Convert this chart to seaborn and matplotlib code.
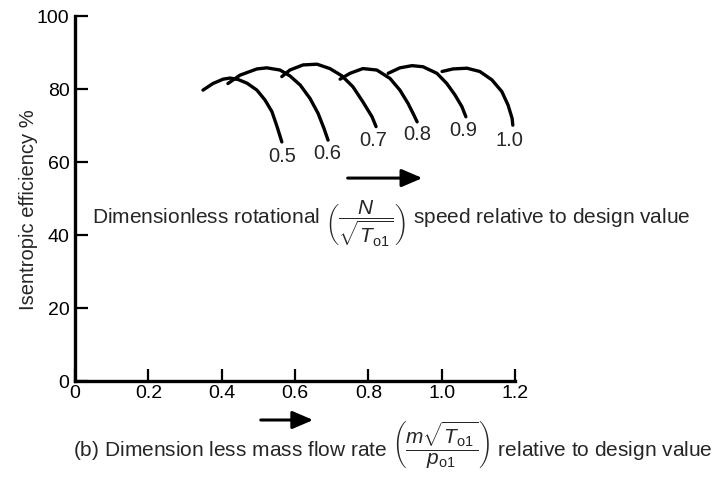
import seaborn as sns
import matplotlib.pyplot as plt
import pandas as pd

# Compressor characteristic: isentropic efficiency vs. non-dimensional mass flow
speeds = ['0.5', '0.6', '0.7', '0.8', '0.9', '1.0']

flow_05 = [0.349, 0.376, 0.404, 0.423, 0.445, 0.469, 0.496, 0.518, 0.537, 0.551, 0.564]
eff_05 = [79.7, 81.5, 82.7, 83.0, 82.6, 81.6, 79.7, 77.0, 73.8, 69.7, 65.5]

flow_06 = [0.417, 0.450, 0.496, 0.523, 0.559, 0.586, 0.614, 0.641, 0.663, 0.679, 0.690]
eff_06 = [81.5, 83.8, 85.5, 85.8, 85.2, 83.6, 81.1, 77.4, 73.3, 69.2, 66.0]

flow_07 = [0.564, 0.586, 0.622, 0.660, 0.695, 0.728, 0.758, 0.785, 0.810, 0.821]
eff_07 = [83.4, 85.2, 86.6, 86.8, 85.6, 83.6, 80.6, 76.5, 72.4, 69.7]

flow_08 = [0.723, 0.750, 0.785, 0.823, 0.859, 0.886, 0.908, 0.924, 0.933]
eff_08 = [82.7, 84.3, 85.6, 85.2, 82.9, 79.7, 76.1, 72.9, 71.0]

flow_09 = [0.854, 0.886, 0.919, 0.949, 0.987, 1.014, 1.036, 1.055, 1.066]
eff_09 = [84.3, 85.8, 86.4, 86.1, 84.3, 81.5, 78.4, 75.2, 72.4]

flow_10 = [1.001, 1.031, 1.069, 1.104, 1.137, 1.164, 1.181, 1.192, 1.194]
eff_10 = [84.8, 85.5, 85.7, 84.8, 82.5, 79.3, 75.6, 72.0, 70.1]

# where the speed labels sit under each curve
label_x = [0.564, 0.687, 0.813, 0.933, 1.058, 1.186]
label_y = [61.4, 62.2, 66.0, 67.6, 68.5, 66.0]

x_ticks = [0, 0.2, 0.4, 0.6, 0.8, 1.0, 1.2]
x_tick_labels = ['0', '0.2', '0.4', '0.6', '0.8', '1.0', '1.2']
y_ticks = [0, 20, 40, 60, 80, 100]

frames = []
for s, fx, fy in zip(speeds,
                     [flow_05, flow_06, flow_07, flow_08, flow_09, flow_10],
                     [eff_05, eff_06, eff_07, eff_08, eff_09, eff_10]):
    frames.append(pd.DataFrame({'flow': fx, 'eff': fy, 'speed': s}))
df = pd.concat(frames, ignore_index=True)

sns.set_style("ticks")
plt.rcParams['font.family'] = ['Liberation Sans', 'DejaVu Sans']
plt.rcParams['mathtext.fontset'] = 'custom'
plt.rcParams['mathtext.rm'] = 'Liberation Sans'
plt.rcParams['mathtext.it'] = 'Liberation Sans:italic'
plt.rcParams['mathtext.bf'] = 'Liberation Sans:bold'

fig = plt.figure(figsize=(7.18, 4.78), dpi=100)
ax = fig.add_axes([0.1045, 0.2029, 0.6128, 0.7636])

sns.lineplot(data=df, x='flow', y='eff', units='speed', estimator=None,
             color='black', linewidth=2.4, ax=ax, legend=False)

for s, lx, ly in zip(speeds, label_x, label_y):
    ax.text(lx, ly, s, ha='center', va='center', fontsize=14.5)

ax.set_xlim(0, 1.2)
ax.set_ylim(0, 100)
ax.set_xticks(x_ticks)
ax.set_xticklabels(x_tick_labels)
ax.set_yticks(y_ticks)
ax.tick_params(direction='in', length=9, width=1.6, labelsize=14, colors='black')
ax.tick_params(axis='x', pad=3)
ax.tick_params(axis='y', pad=4)
sns.despine(ax=ax)
for side in ['left', 'bottom']:
    ax.spines[side].set_linewidth(2.4)
    ax.spines[side].set_color('black')
ax.set_xlabel('')
ax.set_ylabel('')

fig.text(0.039, 1 - 210 / 478, 'Isentropic efficiency %', rotation=90,
         ha='center', va='center', fontsize=14.5)

# speed arrow and description inside the plot
ax.annotate('', xy=(0.955, 55.6), xytext=(0.736, 55.6),
            arrowprops=dict(arrowstyle='-|>,head_length=0.7,head_width=0.3',
                            color='black', lw=2.2, mutation_scale=18))
ax.text(0.046, 43.0,
        r'Dimensionless rotational $\left(\dfrac{N}{\sqrt{T_{\mathrm{o1}}}}\right)$ speed relative to design value',
        ha='left', va='center', fontsize=15, clip_on=False)

# mass flow arrow and axis description below the plot
fig.patches.append(plt.matplotlib.patches.FancyArrowPatch(
    (258 / 718, 1 - 420 / 478), (316 / 718, 1 - 420 / 478),
    transform=fig.transFigure, arrowstyle='-|>,head_length=0.7,head_width=0.3',
    color='black', lw=2.2, mutation_scale=18))
fig.text(0.993, 1 - 444 / 478,
         r'(b) Dimension less mass flow rate $\left(\dfrac{m\sqrt{T_{\mathrm{o1}}}}{p_{\mathrm{o1}}}\right)$ relative to design value',
         ha='right', va='center', fontsize=15)

fig.savefig('out.png', dpi=100, facecolor='white')
plt.close(fig)
